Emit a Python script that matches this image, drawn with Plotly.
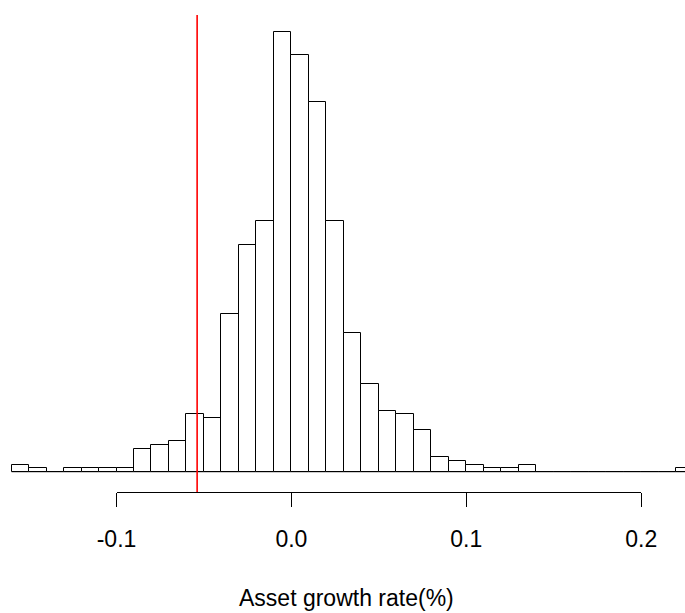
import plotly.graph_objects as go

# Histogram data (bin lower edges, width 0.01) and counts
bin_lower = [-0.16, -0.15, -0.14, -0.13, -0.12, -0.11, -0.10, -0.09, -0.08, -0.07,
             -0.06, -0.05, -0.04, -0.03, -0.02, -0.01, 0.00, 0.01, 0.02, 0.03,
             0.04, 0.05, 0.06, 0.07, 0.08, 0.09, 0.10, 0.11, 0.12, 0.13,
             0.14, 0.15, 0.16, 0.17, 0.18, 0.19, 0.20, 0.21, 0.22]
bin_width = 0.01
counts = [2, 1, 0, 1, 1, 1, 1, 6, 7, 8,
          15, 14, 41, 59, 65, 114, 108, 96, 65, 36,
          23, 16, 15, 11, 4, 3, 2, 1, 1, 2,
          0, 0, 0, 0, 0, 0, 0, 0, 1]
threshold = -0.0539
tick_vals = [-0.1, 0.0, 0.1, 0.2]
tick_text = ["-0.1", "0.0", "0.1", "0.2"]
x_label = "Asset growth rate(%)"

FONT = "Liberation Sans, Arial, sans-serif"
W, H = 685, 613

centers = [b + bin_width / 2 for b in bin_lower]

fig = go.Figure()
fig.add_trace(go.Bar(
    x=centers, y=counts, width=bin_width,
    marker=dict(color="white", line=dict(color="black", width=1)),
    hoverinfo="skip", showlegend=False,
))
# invisible trace to carry the offset R-style axis
fig.add_trace(go.Scatter(x=tick_vals, y=[0] * len(tick_vals), xaxis="x2", yaxis="y",
                         mode="none", hoverinfo="skip", showlegend=False))

# baseline under the bars (zero-count bins are drawn as flat rectangles)
fig.add_shape(type="line", xref="x", yref="y", x0=bin_lower[0], x1=bin_lower[-1] + bin_width,
              y0=0, y1=0, line=dict(color="black", width=1))
# red vertical line
fig.add_shape(type="line", xref="x", yref="paper", x0=threshold, x1=threshold,
              y0=0, y1=0.9695, line=dict(color="#ff0000", width=1.6), layer="above")

plot_h = 492
zero_px = 472.3
px_per_unit = 3.86
x0_px = 291.4
px_per_x = 1749.0

fig.update_layout(
    width=W, height=H,
    margin=dict(l=0, r=0, t=0, b=H - plot_h, pad=0, autoexpand=False),
    paper_bgcolor="white", plot_bgcolor="rgba(0,0,0,0)",
    bargap=0,
    xaxis=dict(range=[(0 - x0_px) / px_per_x, (W - x0_px) / px_per_x], automargin=False,
               visible=False, showgrid=False, zeroline=False, domain=[0, 1]),
    xaxis2=dict(range=[tick_vals[0], tick_vals[-1]], automargin=False,
                domain=[(x0_px + px_per_x * tick_vals[0]) / W, (x0_px + px_per_x * tick_vals[-1]) / W],
                anchor="free", position=0,
                showline=True, linecolor="black", linewidth=1,
                ticks="outside", ticklen=14, tickwidth=1, tickcolor="black",
                tickvals=tick_vals, ticktext=tick_text,
                tickfont=dict(family=FONT, size=23, color="black"),
                ticklabelstandoff=12,
                showgrid=False, zeroline=False),
    yaxis=dict(range=[0, zero_px / px_per_unit], domain=[(plot_h - zero_px) / plot_h, 1],
               automargin=False, visible=False, showgrid=False, zeroline=False),
    annotations=[dict(text=x_label, xref="paper", yref="paper", x=346 / W,
                      y=(plot_h - 598) / plot_h, xanchor="center", yanchor="middle",
                      showarrow=False, font=dict(family=FONT, size=23, color="black"))],
)

fig.write_html("out.html")
